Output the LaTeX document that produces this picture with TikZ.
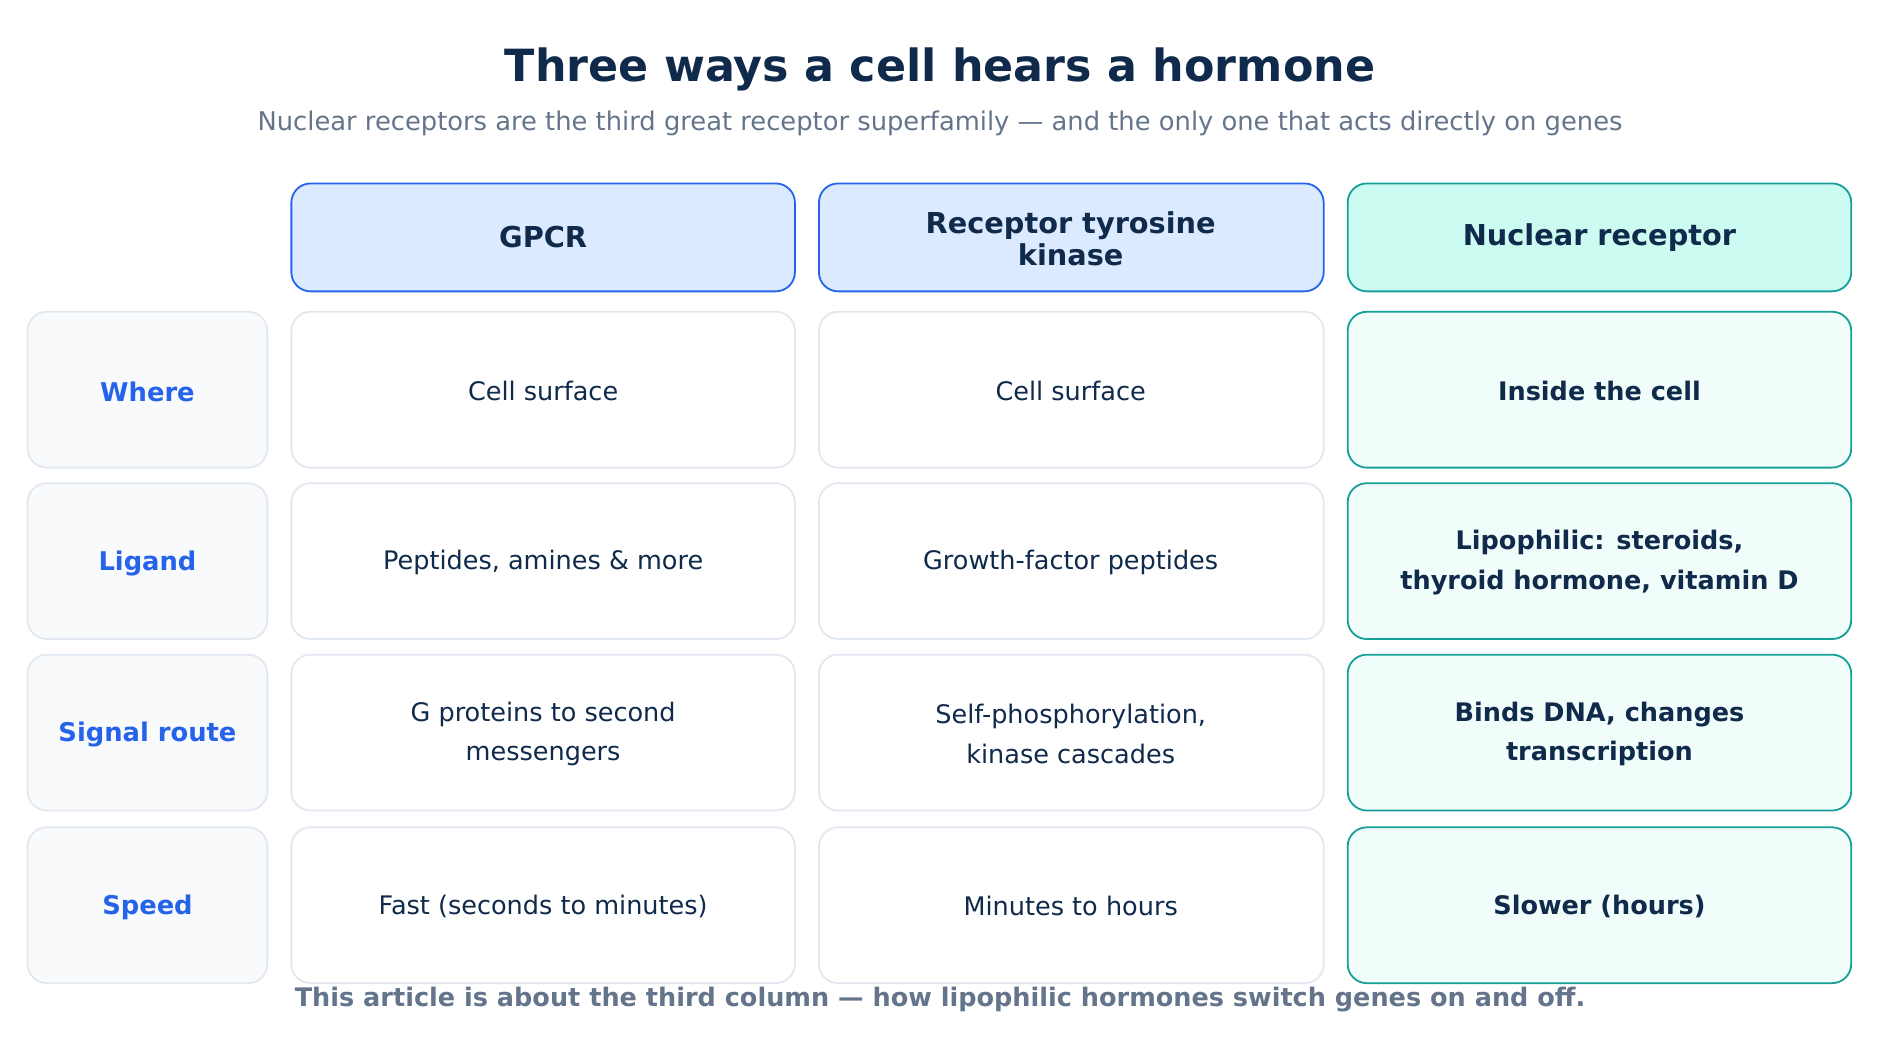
\documentclass[tikz,border=0pt]{standalone}
\usepackage{fontspec}
\setmainfont{DejaVu Sans}
\definecolor{ink}{HTML}{0F2A4A}
\definecolor{blu}{HTML}{2563EB}
\definecolor{bluf}{HTML}{DBEAFE}
\definecolor{tea}{HTML}{14A099}
\definecolor{teaf}{HTML}{CCFBF1}
\definecolor{teal2}{HTML}{F0FDFA}
\definecolor{gr}{HTML}{E2E8F0}
\definecolor{grf}{HTML}{F8FAFC}
\definecolor{sub}{HTML}{64748B}
\begin{document}
\begin{tikzpicture}[x=1pt,y=-1pt,
 box/.style={rounded corners=16pt,line width=1.5pt},
 hd/.style={box,draw=blu,fill=bluf},
 hdt/.style={box,draw=tea,fill=teaf},
 lab/.style={box,draw=gr,fill=grf},
 cel/.style={box,draw=gr,fill=white},
 nr/.style={box,draw=tea,fill=teal2},
 tx/.style={text=ink,font=\fontsize{21.3}{33}\selectfont,align=center},
 bt/.style={text=ink,font=\fontsize{21.3}{33}\selectfont\bfseries,align=center},
 lt/.style={text=blu,font=\fontsize{21.5}{25}\selectfont\bfseries},
 ht/.style={text=ink,font=\fontsize{24}{27}\selectfont\bfseries,align=center}]
\useasboundingbox (0,0) rectangle (1568,867);
\node[text=ink,font=\fontsize{37}{40}\selectfont\bfseries] (title) at (784,58) {Three ways a cell hears a hormone};
\node[text=sub,font=\fontsize{21.5}{25}\selectfont] (subt) at (784,103) {Nuclear receptors are the third great receptor superfamily — and the only one that acts directly on genes};
% headers
\draw[hd] (243,153) rectangle (663,243); \node[ht] (h1) at (453,198) {GPCR};
\draw[hd] (683,153) rectangle (1104,243); \node[ht] (h2) at (893,199) {Receptor tyrosine\\kinase};
\draw[hdt] (1124,153) rectangle (1544,243); \node[ht] (h3) at (1334,198) {Nuclear receptor};
% rows
\foreach \t/\lb/\a/\b/\c [count=\i] in {
 260/Where/Cell surface/Cell surface/Inside the cell,
 403/Ligand/{Peptides, amines \& more}/Growth-factor peptides/{Lipophilic: steroids,\\thyroid hormone, vitamin D},
 546/Signal route/{G proteins to second\\messengers}/{Self-phosphorylation,\\kinase cascades}/{Binds DNA, changes\\transcription},
 690/Speed/Fast (seconds to minutes)/Minutes to hours/Slower (hours)}{
 \draw[lab] (23,\t) rectangle (223,\t+130);
 \node[lt] (l\i) at (123,\t+67) {\lb};
 \draw[cel] (243,\t) rectangle (663,\t+130);
 \node[tx] (a\i) at (453,\t+66) {\a};
 \draw[cel] (683,\t) rectangle (1104,\t+130);
 \node[tx] (b\i) at (893,\t+66) {\b};
 \draw[nr] (1124,\t) rectangle (1544,\t+130);
 \node[bt] (c\i) at (1334,\t+66) {\c};
}
\node[text=sub,font=\fontsize{21.3}{25}\selectfont\bfseries] (foot) at (784,834) {This article is about the third column — how lipophilic hormones switch genes on and off.};
\end{tikzpicture}
\end{document}
